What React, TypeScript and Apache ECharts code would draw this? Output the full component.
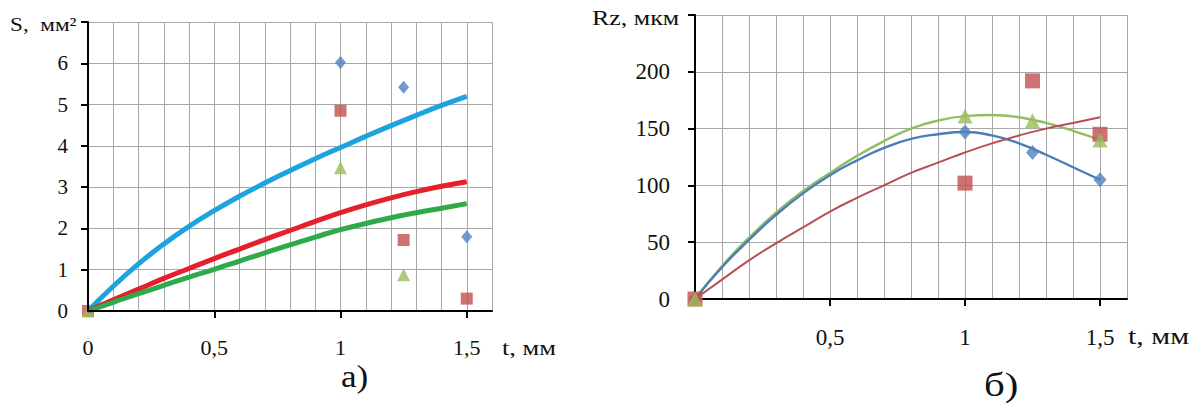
import React, { useEffect, useRef } from "react";
import * as echarts from "echarts";

// t values for fitted curves (mm)
const tFit = [0, 0.1, 0.2, 0.3, 0.4, 0.5, 0.6, 0.7, 0.8, 0.9, 1.0, 1.1, 1.2, 1.3, 1.4, 1.5];

// Chart а): S, мм²
const sBlueFit = [0, 0.6, 1.14, 1.62, 2.05, 2.43, 2.78, 3.1, 3.4, 3.69, 3.96, 4.23, 4.49, 4.74, 4.98, 5.2];
const sRedFit = [0, 0.27, 0.53, 0.79, 1.03, 1.27, 1.5, 1.73, 1.95, 2.17, 2.38, 2.57, 2.74, 2.89, 3.02, 3.13];
const sGreenFit = [0, 0.21, 0.42, 0.62, 0.82, 1.01, 1.21, 1.41, 1.6, 1.79, 1.97, 2.12, 2.26, 2.38, 2.49, 2.6];
const sBluePts = [[1, 6.02], [1.25, 5.42], [1.5, 1.8]];
const sRedPts = [[0, 0], [1, 4.85], [1.25, 1.72], [1.5, 0.3]];
const sGreenPts = [[0, 0], [1, 3.47], [1.25, 0.88]];

// Chart б): Rz, мкм
const rzBlueFit = [0, 28, 52, 74, 93, 109, 122, 133, 141, 145, 147, 144, 137, 127, 116, 105];
const rzGreenFit = [0, 29, 54, 76, 95, 111, 126, 139, 150, 157, 161, 162, 160, 155, 148, 140];
const rzRedFit = [0, 17, 34, 49, 63, 77, 89, 100, 111, 120, 129, 137, 144, 150, 155, 160];
const rzBluePts = [[0, 0], [1, 147], [1.25, 129], [1.5, 105]];
const rzRedPts = [[0, 0], [1, 102], [1.25, 192], [1.5, 145]];
const rzGreenPts = [[0, 0], [1, 161], [1.25, 157], [1.5, 140]];

// tick labels
const xLabelsA = [0, 0.5, 1, 1.5];
const xLabelsB = [0.5, 1, 1.5];
const xTicks = [0.5, 1, 1.5];
const yLabelsA = [0, 1, 2, 3, 4, 5, 6];
const yTicksA = [1, 2, 3, 4, 5, 6, 7];
const yLabelsB = [0, 50, 100, 150, 200];
const yTicksB = [50, 100, 150, 200, 250];

const FONT = "Liberation Serif, Times New Roman, serif";
const fmt = (v: number) => String(v).replace(".", ",");
const zip = (xs: number[], ys: number[]) => xs.map((x, i) => [x, ys[i]]);

export default function App() {
  const ref = useRef<HTMLDivElement>(null);
  useEffect(() => {
    if (!ref.current) return;
    const chart = echarts.init(ref.current, null, { renderer: "svg" });
    const axisLine = { show: true, onZero: false, lineStyle: { color: "#000", width: 2 } };
    const split = { show: true, lineStyle: { color: "#a8a8a8", width: 1 } };
    const gridAxis = (gridIndex: number, max: number, interval: number, position: string) => ({
      type: "value",
      gridIndex,
      position,
      min: 0,
      max,
      interval,
      axisLine: { show: false },
      axisTick: { show: false },
      axisLabel: { show: false },
      splitLine: split,
    });
    const labelAxis = (
      gridIndex: number,
      max: number,
      position: string,
      labels: number[],
      ticks: number[],
      margin: number,
      fontSize: number
    ) => ({
      type: "value",
      gridIndex,
      position,
      min: 0,
      max,
      axisLine,
      splitLine: { show: false },
      axisTick: { show: true, customValues: ticks, length: 7, lineStyle: { color: "#000", width: 2 } },
      axisLabel: {
        show: true,
        customValues: labels,
        formatter: fmt,
        margin,
        fontFamily: FONT,
        fontSize,
        color: "#111",
      },
      z: 5,
    });
    const line = (xi: number, data: number[], color: string, width: number, z: number) => ({
      type: "line",
      xAxisIndex: xi,
      yAxisIndex: xi,
      data: zip(tFit, data),
      showSymbol: false,
      smooth: true,
      lineStyle: { color, width },
      z,
      silent: true,
    });
    const pts = (xi: number, data: number[][], symbol: string, size: any, color: string, z: number) => ({
      type: "scatter",
      xAxisIndex: xi,
      yAxisIndex: xi,
      data,
      symbol,
      symbolSize: size,
      itemStyle: { color },
      z,
      silent: true,
    });
    const txt = (text: string, x: number, y: number, size: number, sx: number) => ({
      type: "text",
      x,
      y,
      scaleX: sx,
      style: { text, fontFamily: FONT, fontSize: size, fill: "#111", align: "left", verticalAlign: "middle" },
    });

    chart.setOption({
      animation: false,
      grid: [
        { left: 88, top: 22, width: 404, height: 289 },
        { left: 695, top: 15, width: 432, height: 284 },
      ],
      xAxis: [
        gridAxis(0, 1.6, 0.1, "bottom"),
        gridAxis(1, 1.6, 0.1, "bottom"),
        labelAxis(0, 1.6, "bottom", xLabelsA, xTicks, 25, 22),
        labelAxis(1, 1.6, "bottom", xLabelsB, xTicks, 27, 23),
      ],
      yAxis: [
        gridAxis(0, 7, 1, "left"),
        gridAxis(1, 250, 50, "left"),
        labelAxis(0, 7, "left", yLabelsA, yTicksA, 20, 21),
        labelAxis(1, 250, "left", yLabelsB, yTicksB, 25, 23),
      ],
      series: [
        pts(0, sRedPts, "rect", 12, "#c0504d", 2),
        pts(0, sGreenPts, "triangle", 13, "#9bbb59", 2),
        line(0, sBlueFit, "#1ca3e0", 5, 3),
        line(0, sRedFit, "#e3202b", 5, 3),
        line(0, sGreenFit, "#2eaa4a", 5, 3),
        pts(0, sBluePts, "diamond", [11, 13], "#4f81bd", 4),

        line(1, rzGreenFit, "#93bd62", 2.4, 3),
        line(1, rzBlueFit, "#4a7ebb", 2.4, 3),
        line(1, rzRedFit, "#b84f55", 2, 4),
        pts(1, rzBluePts, "diamond", [13, 15], "#4f81bd", 5),
        pts(1, rzRedPts, "rect", 15, "#c0504d", 5),
        pts(1, rzGreenPts, "triangle", 15, "#9bbb59", 6),
      ],
      graphic: [
        txt("S,  мм²", 10, 25, 19, 1.22),
        txt("Rz, мкм", 592, 18, 22, 1.18),
        txt("t, мм", 502, 347, 22, 1.2),
        txt("t, мм", 1128, 336, 23, 1.3),
        txt("а)", 341, 376, 32, 1.1),
        txt("б)", 984, 385, 34, 1.2),
      ],
    });
    return () => chart.dispose();
  }, []);
  return (
    <div
      ref={ref}
      style={{ position: "absolute", left: 0, top: 0, width: 1202, height: 403, background: "#fff" }}
    />
  );
}
